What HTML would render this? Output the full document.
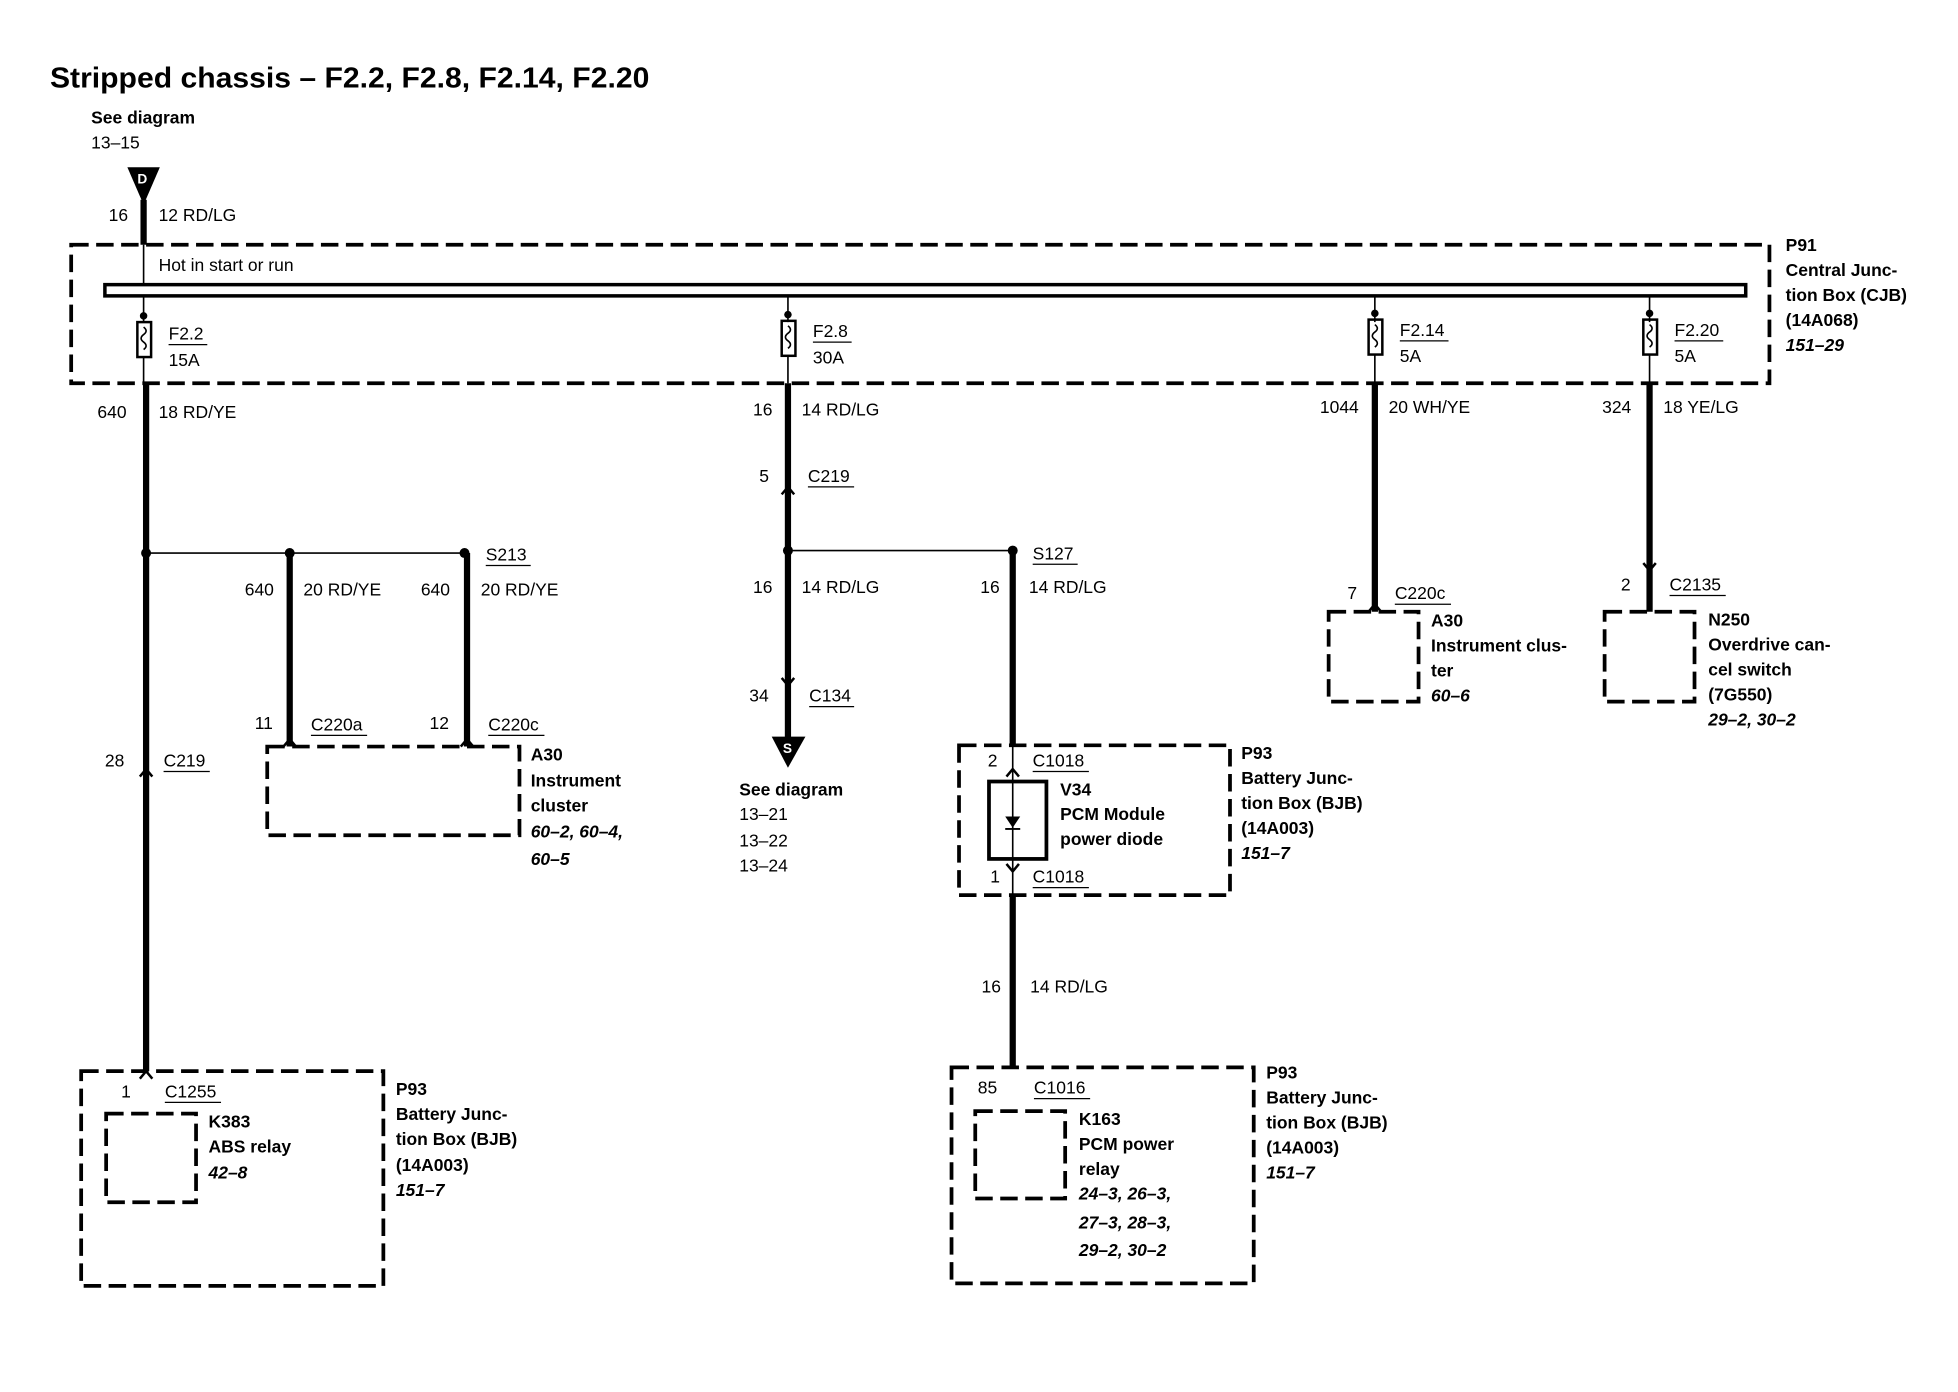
<!DOCTYPE html>
<html><head><meta charset="utf-8"><style>
html,body{margin:0;padding:0;background:#fff;}
svg{display:block;}
text{font-family:"Liberation Sans",Arial,sans-serif;font-size:14px;fill:#000;}
.b{font-weight:bold;}
.i{font-weight:bold;font-style:italic;}
.d{fill:none;stroke:#000;stroke-width:3;stroke-dasharray:14 6;}
.w{stroke:#000;stroke-width:5;fill:none;}
.t{stroke:#000;stroke-width:1.3;fill:none;}
.u{stroke:#000;stroke-width:1;}
.ch{fill:none;stroke:#000;stroke-width:2;}
</style></head><body>
<svg width="1958" height="1392" viewBox="0 0 1568 1115" preserveAspectRatio="none" xmlns="http://www.w3.org/2000/svg">
<text x="40" y="70" class="b" style="font-size:23px" textLength="480" lengthAdjust="spacingAndGlyphs">Stripped chassis – F2.2, F2.8, F2.14, F2.20</text>
<text x="73" y="99" class="b">See diagram</text>
<text x="73" y="119">13–15</text>
<polygon points="102,134 128,134 115,164" fill="#000"/>
<text x="110" y="147" style="font-size:11px;fill:#fff" class="b">D</text>
<line class="w" x1="115" y1="160" x2="115" y2="196"/>
<text x="87" y="177">16</text><text x="127" y="177">12 RD/LG</text>
<rect class="d" x="57" y="196" width="1360" height="111"/>
<text x="127" y="217">Hot in start or run</text>
<rect x="84" y="228" width="1314" height="9" fill="none" stroke="#000" stroke-width="2.8"/>
<line class="t" x1="115" y1="196" x2="115" y2="228"/>
<g>
<line class="t" x1="115" y1="237" x2="115" y2="258"/><circle cx="115" cy="253" r="3"/>
<rect x="110" y="258" width="11" height="28" fill="none" stroke="#000" stroke-width="2"/>
<path d="M115,262 q4,3 0,6 q-4,3 0,6 q4,3 0,6" class="t"/>
<line class="t" x1="115" y1="286" x2="115" y2="307"/>
<text x="135" y="272">F2.2</text><line class="u" x1="135" y1="276" x2="166" y2="276"/><text x="135" y="293">15A</text>
</g>
<g>
<line class="t" x1="631" y1="237" x2="631" y2="258"/><circle cx="631" cy="252" r="3"/>
<rect x="626" y="257" width="11" height="28" fill="none" stroke="#000" stroke-width="2"/>
<path d="M631,261 q4,3 0,6 q-4,3 0,6 q4,3 0,6" class="t"/>
<line class="t" x1="631" y1="285" x2="631" y2="307"/>
<text x="651" y="270">F2.8</text><line class="u" x1="651" y1="274" x2="682" y2="274"/><text x="651" y="291">30A</text>
</g>
<g>
<line class="t" x1="1101" y1="237" x2="1101" y2="258"/><circle cx="1101" cy="251" r="3"/>
<rect x="1096" y="256" width="11" height="28" fill="none" stroke="#000" stroke-width="2"/>
<path d="M1101,260 q4,3 0,6 q-4,3 0,6 q4,3 0,6" class="t"/>
<line class="t" x1="1101" y1="284" x2="1101" y2="307"/>
<text x="1121" y="269">F2.14</text><line class="u" x1="1121" y1="273" x2="1160" y2="273"/><text x="1121" y="290">5A</text>
</g>
<g>
<line class="t" x1="1321" y1="237" x2="1321" y2="258"/><circle cx="1321" cy="251" r="3"/>
<rect x="1316" y="256" width="11" height="28" fill="none" stroke="#000" stroke-width="2"/>
<path d="M1321,260 q4,3 0,6 q-4,3 0,6 q4,3 0,6" class="t"/>
<line class="t" x1="1321" y1="284" x2="1321" y2="307"/>
<text x="1341" y="269">F2.20</text><line class="u" x1="1341" y1="273" x2="1380" y2="273"/><text x="1341" y="290">5A</text>
</g>
<text x="1430" y="201" class="b">P91</text>
<text x="1430" y="221" class="b">Central Junc-</text>
<text x="1430" y="241" class="b">tion Box (CJB)</text>
<text x="1430" y="261" class="b">(14A068)</text>
<text x="1430" y="281" class="i">151–29</text>

<line class="w" x1="117" y1="307" x2="117" y2="858"/>
<text x="78" y="335">640</text><text x="127" y="335">18 RD/YE</text>
<line class="t" x1="117" y1="443" x2="372" y2="443"/>
<circle cx="117" cy="443" r="4"/><circle cx="232" cy="443" r="4"/><circle cx="372" cy="443" r="4"/>
<text x="389" y="449">S213</text><line class="u" x1="389" y1="453" x2="425" y2="453"/>
<line class="w" x1="232" y1="443" x2="232" y2="598"/>
<line class="w" x1="374" y1="443" x2="374" y2="598"/>
<text x="196" y="477">640</text><text x="243" y="477">20 RD/YE</text>
<text x="337" y="477">640</text><text x="385" y="477">20 RD/YE</text>
<text x="204" y="584">11</text><text x="249" y="585">C220a</text><line class="u" x1="249" y1="589" x2="294" y2="589"/>
<text x="344" y="584">12</text><text x="391" y="585">C220c</text><line class="u" x1="391" y1="589" x2="436" y2="589"/>
<path class="ch" d="M227,598 L232,592 L237,598"/>
<path class="ch" d="M369,598 L374,592 L379,598"/>
<rect class="d" x="214" y="598" width="202" height="71"/>
<text x="425" y="609" class="b">A30</text>
<text x="425" y="630" class="b">Instrument</text>
<text x="425" y="650" class="b">cluster</text>
<text x="425" y="671" class="i">60–2, 60–4,</text>
<text x="425" y="693" class="i">60–5</text>
<text x="84" y="614">28</text><text x="131" y="614">C219</text><line class="u" x1="131" y1="618" x2="168" y2="618"/>
<path class="ch" d="M112,622 L117,616 L122,622"/>
<rect class="d" x="65" y="858" width="242" height="172"/>
<text x="97" y="879">1</text><text x="132" y="879">C1255</text><line class="u" x1="132" y1="883" x2="177" y2="883"/>
<path class="ch" d="M112,864 L117,858 L122,864"/>
<rect class="d" x="85" y="892" width="72" height="71"/>
<text x="167" y="903" class="b">K383</text>
<text x="167" y="923" class="b">ABS relay</text>
<text x="167" y="944" class="i">42–8</text>
<text x="317" y="877" class="b">P93</text>
<text x="317" y="897" class="b">Battery Junc-</text>
<text x="317" y="917" class="b">tion Box (BJB)</text>
<text x="317" y="938" class="b">(14A003)</text>
<text x="317" y="958" class="i">151–7</text>

<line class="w" x1="631" y1="307" x2="631" y2="592"/>
<text x="603" y="333">16</text><text x="642" y="333">14 RD/LG</text>
<text x="608" y="386">5</text><text x="647" y="386">C219</text><line class="u" x1="647" y1="390" x2="684" y2="390"/>
<path class="ch" d="M626,396 L631,390 L636,396"/>
<line class="t" x1="631" y1="441" x2="811" y2="441"/>
<circle cx="631" cy="441" r="4"/><circle cx="811" cy="441" r="4"/>
<text x="827" y="448">S127</text><line class="u" x1="827" y1="452" x2="863" y2="452"/>
<text x="603" y="475">16</text><text x="642" y="475">14 RD/LG</text>
<text x="600" y="562">34</text><text x="648" y="562">C134</text><line class="u" x1="648" y1="566" x2="684" y2="566"/>
<path class="ch" d="M626,543 L631,549 L636,543"/>
<polygon points="618,590 645,590 631,615" fill="#000"/>
<text x="627" y="603" style="font-size:11px;fill:#fff" class="b">S</text>
<text x="592" y="637" class="b">See diagram</text>
<text x="592" y="657">13–21</text><text x="592" y="678">13–22</text><text x="592" y="698">13–24</text>

<line class="w" x1="811" y1="441" x2="811" y2="598"/>
<text x="785" y="475">16</text><text x="824" y="475">14 RD/LG</text>
<rect class="d" x="768" y="597" width="217" height="120"/>
<text x="791" y="614">2</text><text x="827" y="614">C1018</text><line class="u" x1="827" y1="618" x2="872" y2="618"/>
<path class="ch" d="M806,622 L811,616 L816,622"/>
<rect x="792" y="626" width="46" height="62" fill="none" stroke="#000" stroke-width="3"/>
<line class="t" x1="811" y1="597" x2="811" y2="717"/>
<polygon points="805,654 817,654 811,663" fill="#000"/>
<line x1="805" y1="664" x2="817" y2="664" stroke="#000" stroke-width="1.5"/>
<path class="ch" d="M806,692 L811,698 L816,692"/>
<text x="849" y="637" class="b">V34</text>
<text x="849" y="657" class="b">PCM Module</text>
<text x="849" y="677" class="b">power diode</text>
<text x="793" y="707">1</text><text x="827" y="707">C1018</text><line class="u" x1="827" y1="711" x2="872" y2="711"/>
<text x="994" y="608" class="b">P93</text>
<text x="994" y="628" class="b">Battery Junc-</text>
<text x="994" y="648" class="b">tion Box (BJB)</text>
<text x="994" y="668" class="b">(14A003)</text>
<text x="994" y="688" class="i">151–7</text>
<line class="w" x1="811" y1="717" x2="811" y2="855"/>
<text x="786" y="795">16</text><text x="825" y="795">14 RD/LG</text>
<rect class="d" x="762" y="855" width="242" height="173"/>
<text x="783" y="876">85</text><text x="828" y="876">C1016</text><line class="u" x1="828" y1="880" x2="873" y2="880"/>
<rect class="d" x="781" y="890" width="72" height="70"/>
<text x="864" y="901" class="b">K163</text>
<text x="864" y="921" class="b">PCM power</text>
<text x="864" y="941" class="b">relay</text>
<text x="864" y="961" class="i">24–3, 26–3,</text>
<text x="864" y="984" class="i">27–3,  28–3,</text>
<text x="864" y="1006" class="i">29–2, 30–2</text>
<text x="1014" y="864" class="b">P93</text>
<text x="1014" y="884" class="b">Battery Junc-</text>
<text x="1014" y="904" class="b">tion Box (BJB)</text>
<text x="1014" y="924" class="b">(14A003)</text>
<text x="1014" y="944" class="i">151–7</text>

<line class="w" x1="1101" y1="307" x2="1101" y2="490"/>
<text x="1057" y="331">1044</text><text x="1112" y="331">20 WH/YE</text>
<text x="1079" y="480">7</text><text x="1117" y="480">C220c</text><line class="u" x1="1117" y1="484" x2="1162" y2="484"/>
<path class="ch" d="M1096,490 L1101,484 L1106,490"/>
<rect class="d" x="1064" y="490" width="72" height="72"/>
<text x="1146" y="502" class="b">A30</text>
<text x="1146" y="522" class="b">Instrument clus-</text>
<text x="1146" y="542" class="b">ter</text>
<text x="1146" y="562" class="i">60–6</text>

<line class="w" x1="1321" y1="307" x2="1321" y2="490"/>
<text x="1283" y="331">324</text><text x="1332" y="331">18 YE/LG</text>
<path class="ch" d="M1316,451 L1321,457 L1326,451"/>
<text x="1298" y="473">2</text><text x="1337" y="473">C2135</text><line class="u" x1="1337" y1="477" x2="1382" y2="477"/>
<rect class="d" x="1285" y="490" width="72" height="72"/>
<text x="1368" y="501" class="b">N250</text>
<text x="1368" y="521" class="b">Overdrive can-</text>
<text x="1368" y="541" class="b">cel switch</text>
<text x="1368" y="561" class="b">(7G550)</text>
<text x="1368" y="581" class="i">29–2, 30–2</text>
</svg>
</body></html>
